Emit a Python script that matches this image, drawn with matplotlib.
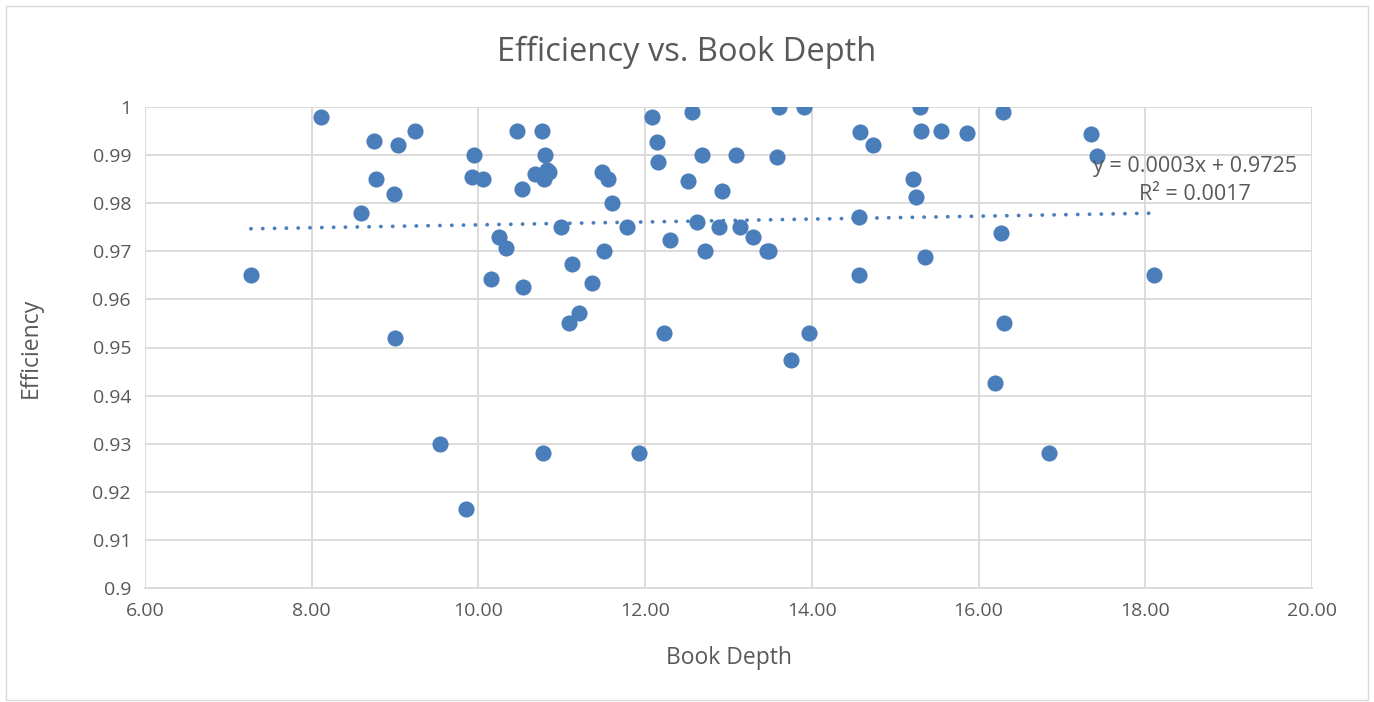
import matplotlib.pyplot as plt
from matplotlib.patches import Rectangle

# Book depth vs. efficiency
book_depth = [
    7.27, 8.11, 8.75, 8.77, 8.59, 8.99, 9.04, 9.24, 9.00, 9.54,
    9.85, 9.95, 9.92, 10.05, 10.46, 10.76, 10.80, 10.68, 10.82, 10.85,
    10.79, 10.52, 10.25, 10.33, 10.15, 10.53, 10.78, 10.99, 11.12, 11.09,
    11.21, 11.36, 11.51, 11.48, 11.55, 11.60, 11.78, 11.93, 12.08, 12.14,
    12.15, 12.23, 12.30, 12.51, 12.56, 12.62, 12.68, 12.72, 12.89, 12.92,
    13.09, 13.14, 13.29, 13.46, 13.49, 13.58, 13.61, 13.75, 13.90, 13.96,
    14.56, 14.57, 14.58, 14.73, 15.21, 15.25, 15.30, 15.31, 15.36, 15.55,
    15.86, 16.20, 16.27, 16.29, 16.30, 16.84, 17.35, 17.42, 18.11,
]
efficiency = [
    0.965, 0.998, 0.993, 0.985, 0.978, 0.982, 0.992, 0.995, 0.952, 0.930,
    0.9165, 0.990, 0.9855, 0.985, 0.995, 0.995, 0.990, 0.986, 0.987, 0.9865,
    0.985, 0.983, 0.973, 0.9707, 0.9643, 0.9626, 0.928, 0.975, 0.9673, 0.955,
    0.9572, 0.9634, 0.970, 0.9865, 0.985, 0.980, 0.975, 0.928, 0.998, 0.9927,
    0.9886, 0.953, 0.9724, 0.9846, 0.999, 0.976, 0.990, 0.970, 0.975, 0.9826,
    0.990, 0.975, 0.973, 0.970, 0.970, 0.9896, 1.000, 0.9474, 1.000, 0.953,
    0.9771, 0.965, 0.9948, 0.992, 0.985, 0.9813, 1.000, 0.995, 0.9688, 0.995,
    0.9946, 0.9426, 0.9738, 0.999, 0.955, 0.928, 0.9944, 0.9898, 0.965,
]

# linear trendline as shown in the chart label
trend_slope = 0.0003
trend_intercept = 0.9725
trend_label = "y = 0.0003x + 0.9725\nR² = 0.0017"

x_ticks = [6, 8, 10, 12, 14, 16, 18, 20]
y_ticks = [0.9, 0.91, 0.92, 0.93, 0.94, 0.95, 0.96, 0.97, 0.98, 0.99, 1.0]
y_tick_labels = ["0.9", "0.91", "0.92", "0.93", "0.94", "0.95", "0.96",
                 "0.97", "0.98", "0.99", "1"]

blue = "#4A7EBB"
text_grey = "#595959"
grid_grey = "#D9D9D9"

plt.rcParams["font.family"] = ["Open Sans", "DejaVu Sans"]

fig = plt.figure(figsize=(13.74, 7.02), dpi=100)
ax = fig.add_axes([145 / 1374, 1 - 588 / 702, (1312 - 145) / 1374, (588 - 107) / 702])

ax.scatter(book_depth, efficiency, s=135, color=blue, zorder=3, linewidths=0)

x0, x1 = min(book_depth), max(book_depth)
ax.plot([x0, x1], [trend_slope * x0 + trend_intercept, trend_slope * x1 + trend_intercept],
        color=blue, linewidth=2.7, linestyle=(0, (0.05, 3.1)), dash_capstyle="round",
        zorder=2)

ax.text(18.6, 0.9848, trend_label, ha="center", va="center", fontsize=15.5,
        color=text_grey, linespacing=1.45, zorder=4)

ax.set_xlim(6, 20)
ax.set_ylim(0.9, 1.0)
ax.set_xticks(x_ticks)
ax.set_xticklabels([f"{t:.2f}" for t in x_ticks])
ax.set_yticks(y_ticks)
ax.set_yticklabels(y_tick_labels)
ax.tick_params(length=0, labelsize=14, labelcolor=text_grey, pad=10)

ax.grid(True, color=grid_grey, linewidth=1.3)
ax.set_axisbelow(True)
for side in ["top", "right", "left"]:
    ax.spines[side].set_visible(False)
ax.spines["bottom"].set_color(grid_grey)
ax.spines["bottom"].set_linewidth(1.3)

fig.text(0.5, 1 - 52 / 702, "Efficiency vs. Book Depth", ha="center", va="center",
         fontsize=23.5, color=text_grey)
ax.set_xlabel("Book Depth", fontsize=16.5, color=text_grey)
ax.set_ylabel("Efficiency", fontsize=16.5, color=text_grey)
ax.xaxis.set_label_coords(0.5, -(658 - 588) / 481)
ax.yaxis.set_label_coords(-(145 - 31) / 1167, 0.5)
ax.xaxis.label.set_va("center")
ax.yaxis.label.set_va("center")

fig.patches.append(Rectangle((6 / 1374, 2 / 702), 1362 / 1374, 694 / 702,
                             transform=fig.transFigure, fill=False,
                             edgecolor=grid_grey, linewidth=1))

fig.savefig("out.png", dpi=100)
